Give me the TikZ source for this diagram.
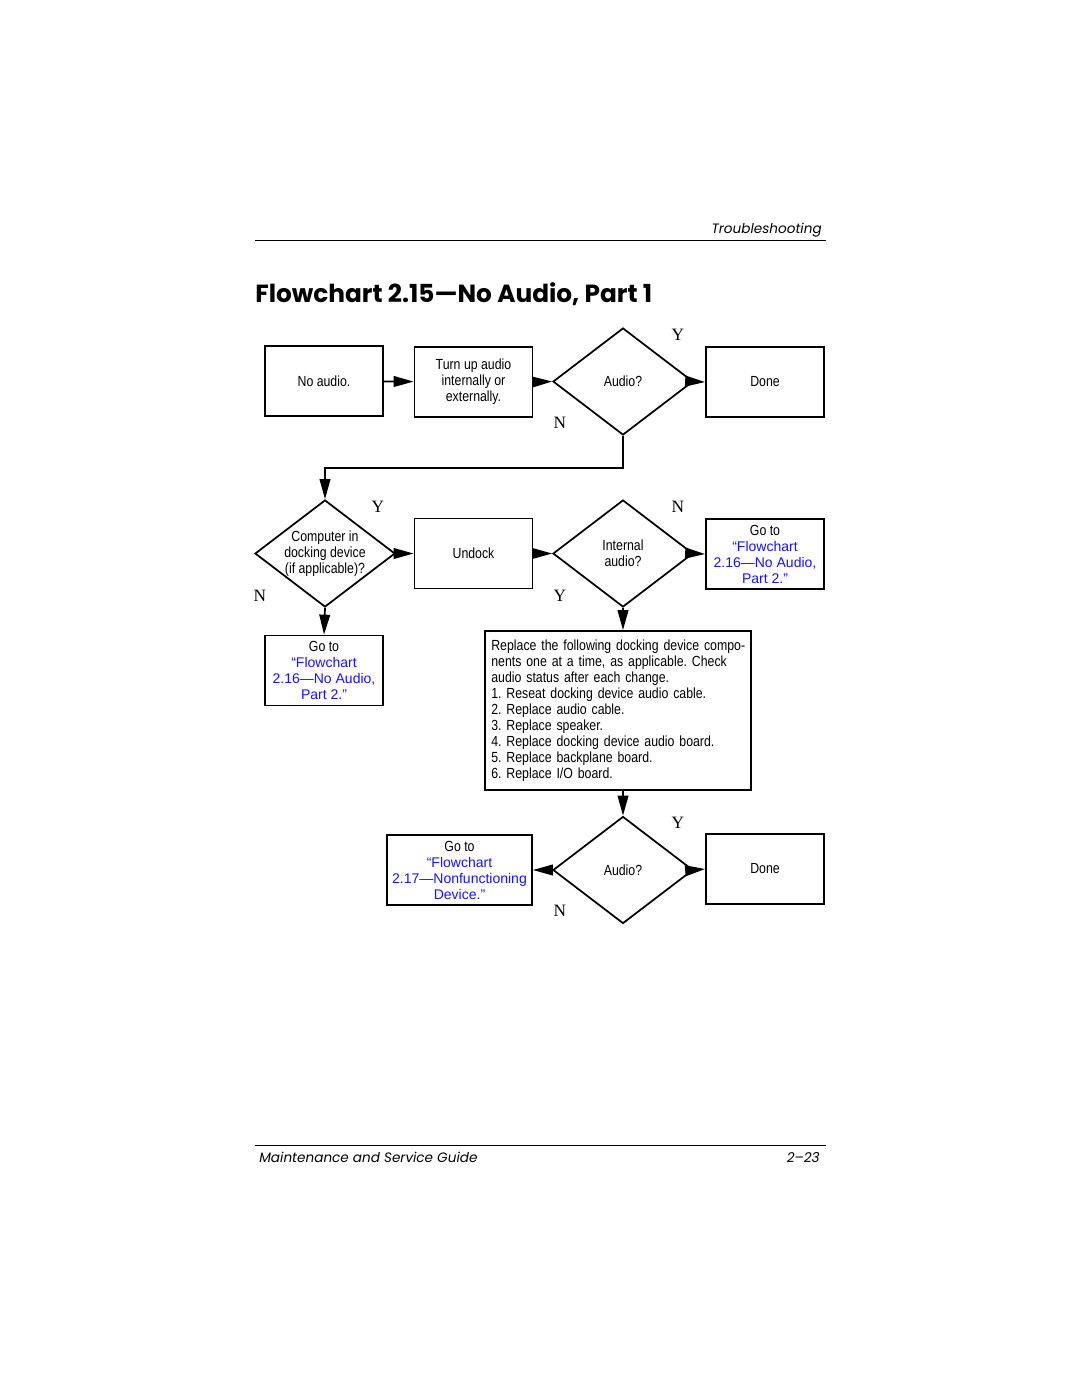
\documentclass[tikz,border=0pt]{standalone}
\usepackage{fontspec}
\usepackage{xcolor}
\usetikzlibrary{shapes.geometric,arrows.meta}
\setmainfont{Liberation Sans}
\newfontfamily\narrowfont{Liberation Sans}[FakeStretch=0.84]
\newfontfamily\ynfont{Liberation Serif}
\newfontfamily\futura{Poppins}
\definecolor{linkblue}{RGB}{20,20,255}
\frenchspacing
\tikzstyle{stepbox} = [draw=black, line width=1.3pt, rectangle,
    minimum width=88.5pt, minimum height=52.5pt, inner sep=1pt,
    align=center, font=\narrowfont\fontsize{11}{12}\selectfont]
\tikzstyle{linkbox} = [stepbox, text=linkblue,
    font=\rmfamily\fontsize{10.5}{12}\selectfont]
\tikzstyle{decision} = [draw=black, line width=1.3pt, diamond,
    minimum width=105pt, minimum height=80.25pt, inner sep=0pt]
\tikzstyle{dtext} = [align=center, inner sep=0pt,
    font=\narrowfont\fontsize{11}{12}\selectfont]
\tikzstyle{yn} = [inner sep=0pt, font=\ynfont\fontsize{13}{13}\selectfont]
\tikzstyle{pagetext} = [inner sep=0pt, font=\futura\itshape\fontsize{10.2}{12}\selectfont]
\tikzstyle{flow} = [line width=1.3pt, -{Triangle[length=15pt,width=8pt]}]
\newcommand{\gotoline}{{\color{black}\narrowfont\fontsize{11}{12}\selectfont Go to}}

\begin{document}
\begin{tikzpicture}[x=0.75pt,y=-0.75pt]
\useasboundingbox (0,0) rectangle (1080,1397);
% page head
\draw[line width=0.6pt] (255,240) -- (826,240);
\node[pagetext, anchor=base east] (head) at (822,233) {Troubleshooting};
\node[anchor=base west, inner sep=0pt, font=\futura\bfseries\fontsize{18.6}{20}\selectfont] (title) at (255,302) {Flowchart 2.15—No Audio, Part 1};

% first row
\node[stepbox] (noaudio) at (324,381) {No audio.};
\node[stepbox] (turnup) at (473.5,382) {Turn up audio\\internally or\\externally.};
\node[decision] (audioA) at (623,381.5) {};
\node[dtext] (audioAtxt) at (audioA) {Audio?};
\node[stepbox] (doneA) at (765,382) {Done};
\node[yn] (yA) at (678,335) {Y};
\node[yn] (nA) at (560,423) {N};

% second row
\node[decision] (dock) at (325,553.5) {};
\node[dtext] (docktxt) at (dock) {Computer in\\docking device\\(if applicable)?};
\node[stepbox] (undock) at (473.5,553.5) {Undock};
\node[decision] (internal) at (623,553.5) {};
\node[dtext] (internaltxt) at (internal) {Internal\\audio?};
\node[linkbox] (gotoA) at (765,554) {\gotoline\\“Flowchart\\2.16—No Audio,\\Part 2.”};
\node[yn] (yB) at (378,507) {Y};
\node[yn] (nB) at (260,596) {N};
\node[yn] (nC) at (678,507) {N};
\node[yn] (yC) at (560,596) {Y};

% third row
\node[linkbox] (gotoB) at (324,670.5) {\gotoline\\“Flowchart\\2.16—No Audio,\\Part 2.”};
\node[stepbox, minimum width=199.5pt, minimum height=119.25pt, align=left, text width=190pt, inner sep=4.5pt] (replace) at (618,710.5) {\mbox{Replace the following docking device compo-}\\nents one at a time, as applicable. Check\\audio status after each change.\\1. Reseat docking device audio cable.\\2. Replace audio cable.\\3. Replace speaker.\\4. Replace docking device audio board.\\5. Replace backplane board.\\6. Replace I/O board.};

% last row
\node[decision] (audioB) at (623,870) {};
\node[dtext] (audioBtxt) at (audioB) {Audio?};
\node[linkbox, minimum width=108.75pt] (gotoC) at (459.5,870) {\gotoline\\“Flowchart\\2.17—Nonfunctioning\\Device.”};
\node[stepbox] (doneB) at (765,869) {Done};
\node[yn] (yD) at (678,823) {Y};
\node[yn] (nD) at (560,911) {N};

% connectors
\draw[flow] (noaudio) -- (turnup);
\draw[flow] (turnup.east) -- (audioA.west);
\draw[flow] (audioA.east) -- (doneA.west);
\draw[flow] (audioA.south) -- ++(0,32) -| (dock.north);
\draw[flow] (dock.east) -- (undock.west);
\draw[flow] (dock.south) -- (gotoB.north);
\draw[flow] (undock.east) -- (internal.west);
\draw[flow] (internal.east) -- (gotoA.west);
\draw[flow] (internal.south) -- (internal.south |- replace.north);
\draw[flow] (audioB.north |- replace.south) -- (audioB.north);
\draw[flow] (audioB.west) -- (gotoC.east);
\draw[flow] (audioB.east) -- (doneB.west);

% page foot
\draw[line width=0.6pt] (255,1145) -- (826,1145);
\node[pagetext, anchor=base west] (foot) at (259,1162) {Maintenance and Service Guide};
\node[pagetext, anchor=base east] (pageno) at (820,1162) {2–23};
\end{tikzpicture}
\end{document}
